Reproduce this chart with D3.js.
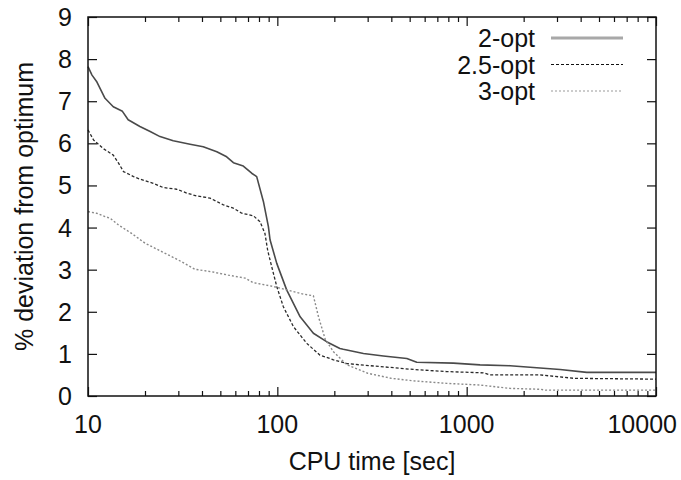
<!DOCTYPE html>
<html>
<head>
<meta charset="utf-8">
<script src="https://cdn.jsdelivr.net/npm/d3@7"></script>
<style>
  body { margin: 0; background: #fff; }
  text { font-family: "Liberation Sans", Arial, Helvetica, sans-serif; fill: #111; }
</style>
</head>
<body>
<svg id="chart"></svg>
<script>
// series: [cpu seconds, % deviation]
const twoOpt = [[10,7.82],[10.5,7.62],[11.1,7.47],[12.3,7.07],[13.6,6.87],[15.2,6.76],[16.3,6.56],[18.8,6.40],[21.3,6.28],[24,6.16],[28.2,6.06],[34.6,5.98],[40.6,5.92],[47.9,5.80],[54,5.68],[58.6,5.54],[66.1,5.46],[73.2,5.29],[77.8,5.21],[84.4,4.62],[89.7,4.02],[91.5,3.71],[99.3,3.15],[112,2.52],[132,1.88],[155,1.49],[182,1.29],[214,1.13],[223,1.11],[285,1.01],[363,0.95],[483,0.89],[545,0.80],[851,0.78],[1177,0.74],[1695,0.72],[1915,0.70],[3115,0.63],[4309,0.56],[10000,0.56]];
const twoHalfOpt = [[10,6.32],[10.7,6.08],[12,5.88],[13.6,5.72],[14.5,5.53],[15.4,5.33],[17.4,5.21],[18.8,5.15],[22.1,5.05],[25,4.95],[29.4,4.91],[33.2,4.82],[37.5,4.75],[44.1,4.70],[51.9,4.54],[58.6,4.46],[64.9,4.34],[74.7,4.28],[81,4.14],[86,3.86],[89,3.45],[93.4,3.07],[99.3,2.60],[107.6,2.12],[121.5,1.65],[143,1.25],[168,0.97],[198,0.86],[233,0.77],[273,0.74],[349,0.70],[523,0.63],[785,0.58],[1225,0.55],[1330,0.50],[2438,0.50],[3664,0.42],[10000,0.40]];
const threeOpt = [[10,4.38],[11.1,4.34],[12.3,4.26],[13.1,4.22],[14.5,4.06],[17,3.86],[20,3.63],[24.5,3.43],[30,3.23],[36.7,3.01],[45,2.95],[55.1,2.87],[67.5,2.80],[74.7,2.69],[95.3,2.60],[112,2.52],[137,2.42],[155,2.38],[165,1.88],[179,1.35],[198,1.05],[233,0.74],[300,0.54],[400,0.42],[523,0.36],[785,0.30],[1177,0.26],[1695,0.18],[2442,0.16],[2600,0.14],[10000,0.14]];

const seriesNames = ["2-opt", "2.5-opt", "3-opt"];
const xTicks = [10, 100, 1000, 10000];
const yTicks = [0, 1, 2, 3, 4, 5, 6, 7, 8, 9];

class DeviationChart {

  constructor(_config, _data) {
    this.config = {
      parentElement: _config.parentElement,
      containerWidth: _config.containerWidth || 681,
      containerHeight: _config.containerHeight || 480,
      margin: { top: 17, bottom: 84, right: 25, left: 88 }
    }
    this.data = _data;
    this.initVis();
  }

  initVis() {
    let vis = this;

    vis.width = vis.config.containerWidth - vis.config.margin.left - vis.config.margin.right;
    vis.height = vis.config.containerHeight - vis.config.margin.top - vis.config.margin.bottom;

    vis.svg = d3.select(vis.config.parentElement)
        .attr('width', vis.config.containerWidth)
        .attr('height', vis.config.containerHeight);

    vis.chart = vis.svg.append('g')
        .attr('transform', `translate(${vis.config.margin.left},${vis.config.margin.top})`);

    vis.xScale = d3.scaleLog()
        .domain([10, 10000])
        .range([0, vis.width]);

    vis.yScale = d3.scaleLinear()
        .domain([0, 9])
        .range([vis.height, 0]);

    // line styles, one per series
    vis.styles = [
      { stroke: '#4a4a4a', width: 1.6, dash: null, legendStroke: '#a8a8a8', legendWidth: 3 },
      { stroke: '#2a2a2a', width: 1.3, dash: '3,2', legendStroke: '#111', legendWidth: 1.2 },
      { stroke: '#8a8a8a', width: 1.4, dash: '2,2', legendStroke: '#999', legendWidth: 1.2 }
    ];

    vis.updateVis();
  }

  updateVis() {
    let vis = this;

    // minor ticks for the log axis
    let minor = [];
    xTicks.slice(0, -1).forEach(t => {
      for (let k = 2; k <= 9; k++) minor.push(t * k);
    });

    // bottom and top axes, ticks pointing inward
    vis.chart.append('g')
        .attr('transform', `translate(0,${vis.height})`)
        .call(d3.axisTop(vis.xScale).tickValues(minor).tickSize(5).tickFormat(''))
        .call(g => g.select('.domain').remove());
    vis.chart.append('g')
        .attr('transform', `translate(0,${vis.height})`)
        .call(d3.axisTop(vis.xScale).tickValues(xTicks).tickSize(9).tickFormat(''))
        .call(g => g.select('.domain').remove());
    vis.chart.append('g')
        .call(d3.axisBottom(vis.xScale).tickValues(minor).tickSize(5).tickFormat(''))
        .call(g => g.select('.domain').remove());
    vis.chart.append('g')
        .call(d3.axisBottom(vis.xScale).tickValues(xTicks).tickSize(9).tickFormat(''))
        .call(g => g.select('.domain').remove());

    // left and right axes
    vis.chart.append('g')
        .call(d3.axisRight(vis.yScale).tickValues(yTicks).tickSize(9).tickFormat(''))
        .call(g => g.select('.domain').remove());
    vis.chart.append('g')
        .attr('transform', `translate(${vis.width},0)`)
        .call(d3.axisLeft(vis.yScale).tickValues(yTicks).tickSize(9).tickFormat(''))
        .call(g => g.select('.domain').remove());

    vis.chart.selectAll('.tick line')
        .attr('stroke', '#111')
        .attr('stroke-width', 1.2);

    // tick labels
    vis.chart.selectAll('.xlab')
        .data(xTicks)
      .join('text')
        .attr('class', 'xlab')
        .attr('x', d => vis.xScale(d))
        .attr('y', vis.height + 37)
        .attr('text-anchor', (d, i) => i === xTicks.length - 1 ? 'end' : 'middle')
        .attr('dx', (d, i) => i === xTicks.length - 1 ? 21 : 0)
        .style('font-size', '25px')
        .text(d => d);

    vis.chart.selectAll('.ylab')
        .data(yTicks)
      .join('text')
        .attr('class', 'ylab')
        .attr('x', -16)
        .attr('y', d => vis.yScale(d))
        .attr('dy', '0.36em')
        .attr('text-anchor', 'end')
        .style('font-size', '25px')
        .text(d => d);

    // axis titles
    vis.svg.append('text')
        .attr('x', vis.config.margin.left + vis.width / 2)
        .attr('y', vis.config.margin.top + vis.height + 74)
        .attr('text-anchor', 'middle')
        .style('font-size', '25px')
        .text('CPU time [sec]');

    vis.svg.append('text')
        .attr('transform', `translate(33,${vis.config.margin.top + vis.height / 2}) rotate(-90)`)
        .attr('text-anchor', 'middle')
        .style('font-size', '25px')
        .text('% deviation from optimum');

    vis.line = d3.line()
        .x(d => vis.xScale(d[0]))
        .y(d => vis.yScale(d[1]));

    vis.chart.selectAll('.line')
        .data(vis.data)
      .join('path')
        .attr('class', 'line')
        .attr('fill', 'none')
        .attr('stroke', (d, i) => vis.styles[i].stroke)
        .attr('stroke-width', (d, i) => vis.styles[i].width)
        .attr('stroke-dasharray', (d, i) => vis.styles[i].dash)
        .attr('stroke-linejoin', 'round')
        .attr('d', d => vis.line(d));

    // frame
    vis.chart.append('rect')
        .attr('width', vis.width)
        .attr('height', vis.height)
        .attr('fill', 'none')
        .attr('stroke', '#111')
        .attr('stroke-width', 1.5);

    // legend, top right
    let legend = vis.chart.selectAll('.legend')
        .data(seriesNames)
      .join('g')
        .attr('class', 'legend')
        .attr('transform', (d, i) => `translate(0,${21 + i * 26.5})`);

    legend.append('text')
        .attr('x', 447)
        .attr('dy', '0.36em')
        .attr('text-anchor', 'end')
        .style('font-size', '25px')
        .text(d => d);

    legend.append('line')
        .attr('x1', 463)
        .attr('x2', 535)
        .attr('stroke', (d, i) => vis.styles[i].legendStroke)
        .attr('stroke-width', (d, i) => vis.styles[i].legendWidth)
        .attr('stroke-dasharray', (d, i) => vis.styles[i].dash);
  }
}

new DeviationChart({ parentElement: '#chart' }, [twoOpt, twoHalfOpt, threeOpt]);
</script>
</body>
</html>
